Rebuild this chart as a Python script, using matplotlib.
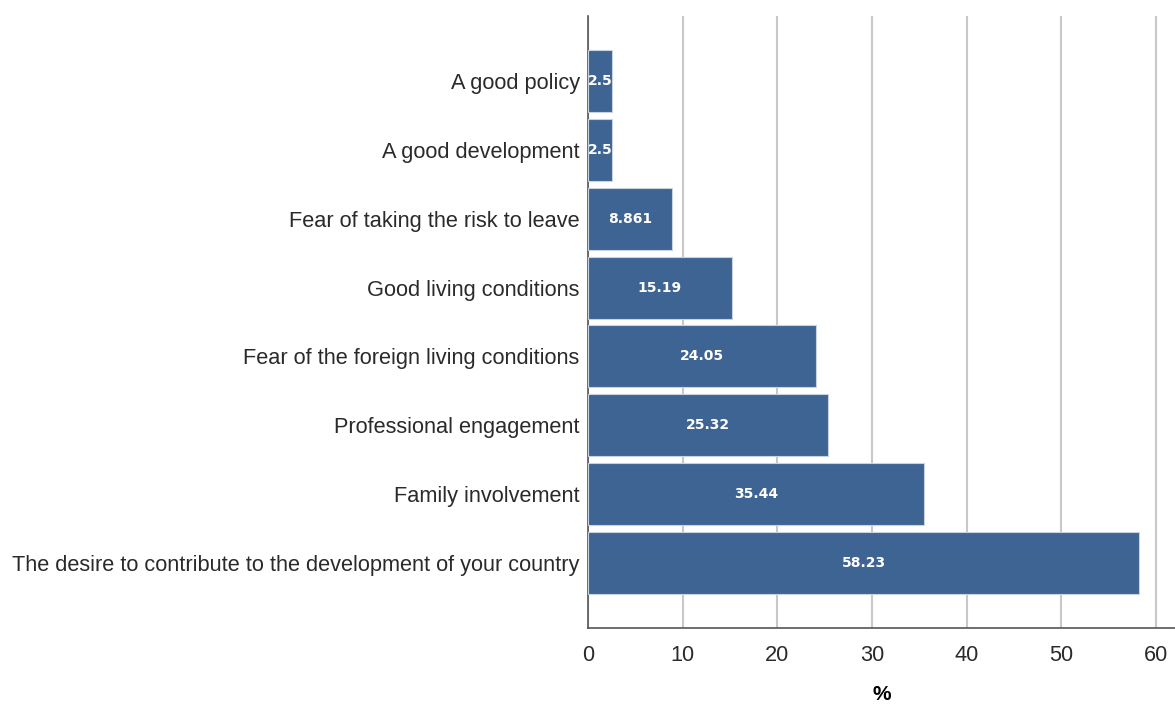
import matplotlib.pyplot as plt

# Categorías y porcentajes (de abajo hacia arriba)
categorias = [
    'The desire to contribute to the development of your country',
    'Family involvement',
    'Professional engagement',
    'Fear of the foreign living conditions',
    'Good living conditions',
    'Fear of taking the risk to leave',
    'A good development',
    'A good policy',
]
valores = [58.23, 35.44, 25.32, 24.05, 15.19, 8.861, 2.5, 2.5]
etiquetas = ['58.23', '35.44', '25.32', '24.05', '15.19', '8.861', '2.5', '2.5']
ticks_x = [0, 10, 20, 30, 40, 50, 60]

plt.rcParams['font.family'] = ['Liberation Sans', 'DejaVu Sans']

fig = plt.figure(figsize=(11.75, 7.06), dpi=100)
ax = fig.add_axes([0.5004, 0.1105, 0.4996, 0.8668])

pos = list(range(len(categorias)))
barras = ax.barh(pos, valores, height=0.9, color='#3e6493',
                 edgecolor='#c9d3e0', linewidth=0.8, zorder=3)

for b, txt in zip(barras, etiquetas):
    ax.text(b.get_width() / 2, b.get_y() + b.get_height() / 2, txt,
            ha='center', va='center', color='white', fontsize=10,
            fontweight='bold', family='DejaVu Sans', zorder=4)

ax.set_yticks(pos)
ax.set_yticklabels(categorias, fontsize=15.7, color='#2a2a2a')
ax.set_xticks(ticks_x)
ax.set_xticklabels([str(t) for t in ticks_x], fontsize=15.7, color='#2a2a2a')
ax.set_xlim(0, 62)
ax.set_ylim(-0.944, 7.944)
ax.tick_params(axis='y', length=0, pad=6)
ax.tick_params(axis='x', length=0, pad=12)

ax.grid(axis='x', color='#c8c8c8', linewidth=1.5, zorder=0)
ax.set_axisbelow(True)
for lado in ['top', 'right']:
    ax.spines[lado].set_visible(False)
for lado in ['left', 'bottom']:
    ax.spines[lado].set_color('#555555')
    ax.spines[lado].set_linewidth(1.2)

ax.set_xlabel('%', fontsize=15, fontweight='bold', labelpad=14)

fig.savefig('out.png', dpi=100)
